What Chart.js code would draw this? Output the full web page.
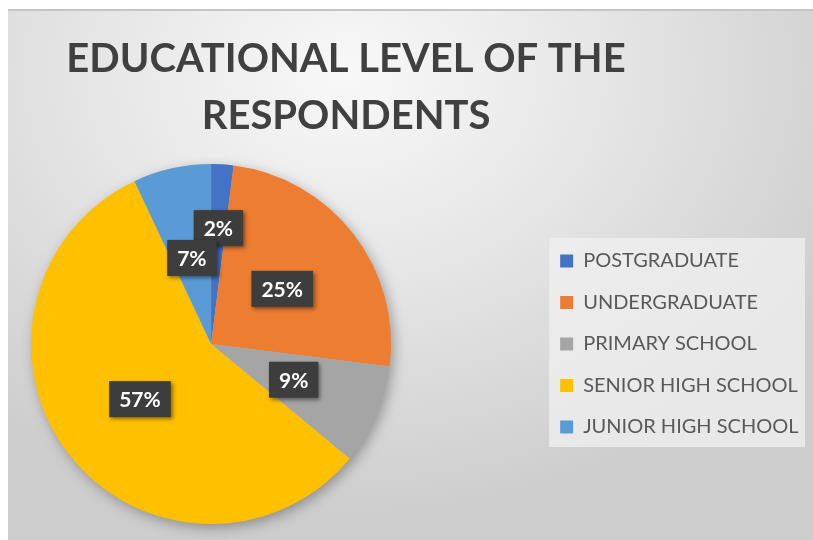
<!DOCTYPE html>
<html>
<head>
<meta charset="utf-8">
<script src="https://cdn.jsdelivr.net/npm/chart.js@4.4.1/dist/chart.umd.min.js"></script>
<style>
	html, body {
		margin: 0;
		padding: 0;
		background: #ffffff;
	}
	#frame {
		position: absolute;
		left: 8px;
		top: 9px;
		width: 805px;
		height: 529px;
		border-top: 2px solid #c4c4c4;
		background: radial-gradient(ellipse 70% 85% at 42% 12%, #f8f8f8 0%, #e6e6e6 45%, #cdcdcd 100%);
	}
	#chart {
		display: block;
	}
</style>
</head>
<body>
<div id="frame">
	<canvas id="chart" width="805" height="529"></canvas>
</div>
<script>
const titleLines = ["EDUCATIONAL LEVEL OF THE", "RESPONDENTS"];
const categories = ["POSTGRADUATE", "UNDERGRADUATE", "PRIMARY SCHOOL", "SENIOR HIGH SCHOOL", "JUNIOR HIGH SCHOOL"];
const shares = [2, 25, 9, 57, 7];
const sliceColors = ["#4472C4", "#ED7D31", "#A5A5A5", "#FFC000", "#5B9BD5"];

// how far out (fraction of the radius) each percent box sits
const labelRadius = [0.645, 0.5, 0.5, 0.5, 0.49];

// legend is laid out next to the pie, then pushed out to the right edge
const legendToRight = {
	id: "legendToRight",
	afterLayout(chart, args, opts) {
		const legend = chart.legend;
		if (!legend) return;
		const shift = chart.width - opts.gap - legend.right;
		legend.left += shift;
		legend.right += shift;
	}
};

const pieShadow = {
	id: "pieShadow",
	beforeDatasetsDraw(chart) {
		const arc = chart.getDatasetMeta(0).data[0];
		if (!arc) return;
		const {x, y, outerRadius} = arc.getProps(["x", "y", "outerRadius"], true);
		const ctx = chart.ctx;
		ctx.save();
		ctx.shadowColor = "rgba(0, 0, 0, 0.35)";
		ctx.shadowBlur = 14;
		ctx.shadowOffsetX = 3;
		ctx.shadowOffsetY = 4;
		ctx.fillStyle = "#bbbbbb";
		ctx.beginPath();
		ctx.arc(x, y, outerRadius - 1, 0, Math.PI * 2);
		ctx.fill();
		ctx.restore();
	}
};

const legendPanel = {
	id: "legendPanel",
	beforeDraw(chart) {
		const legend = chart.legend;
		if (!legend) return;
		const ctx = chart.ctx;
		const pad = legend.options.labels.padding;
		const midY = (legend.top + legend.bottom) / 2;
		const left = legend.left + pad - 11;
		ctx.save();
		ctx.fillStyle = "rgba(240, 240, 240, 0.75)";
		ctx.fillRect(left, midY - 106, legend.right - 3.5 - left, 209);
		ctx.restore();
	}
};

const percentBoxes = {
	id: "percentBoxes",
	afterDatasetsDraw(chart) {
		const ctx = chart.ctx;
		const meta = chart.getDatasetMeta(0);
		const values = chart.data.datasets[0].data;
		const total = values.reduce((a, b) => a + b, 0);

		ctx.save();
		ctx.font = "bold 21px Lato";
		ctx.textAlign = "center";
		ctx.textBaseline = "middle";

		meta.data.forEach((arc, i) => {
			const {x, y, startAngle, endAngle, outerRadius} = arc.getProps(["x", "y", "startAngle", "endAngle", "outerRadius"], true);
			const mid = (startAngle + endAngle) / 2;
			const r = outerRadius * labelRadius[i];
			const cx = x + Math.cos(mid) * r;
			const cy = y + Math.sin(mid) * r;
			const text = Math.round(values[i] / total * 100) + "%";
			const w = ctx.measureText(text).width + 20;
			const h = 36;

			ctx.shadowColor = "rgba(0, 0, 0, 0.45)";
			ctx.shadowBlur = 4;
			ctx.shadowOffsetX = 2;
			ctx.shadowOffsetY = 2;
			ctx.fillStyle = "#3d3d3d";
			ctx.fillRect(cx - w / 2, cy - h / 2, w, h);

			ctx.shadowColor = "transparent";
			ctx.fillStyle = "#ffffff";
			ctx.fillText(text, cx, cy + 1);
		});
		ctx.restore();
	}
};

new Chart(document.getElementById("chart"), {
	type: "pie",
	data: {
		labels: categories,
		datasets: [{
			data: shares,
			backgroundColor: sliceColors,
			borderWidth: 0
		}]
	},
	options: {
		responsive: false,
		animation: false,
		layout: {
			padding: {left: 0, right: 129, top: 0, bottom: 16}
		},
		plugins: {
			title: {
				display: true,
				text: titleLines,
				color: "#404040",
				font: {family: "Lato", size: 40, weight: "bold", lineHeight: 1.4375},
				padding: {top: 19, bottom: 19}
			},
			legend: {
				position: "right",
				fullSize: false,
				labels: {
					color: "#595959",
					font: {family: "Lato", size: 20},
					boxWidth: 13,
					boxHeight: 13,
					padding: 21.5
				}
			},
			legendToRight: {gap: 4.5},
			tooltip: {enabled: false}
		}
	},
	plugins: [legendToRight, pieShadow, legendPanel, percentBoxes]
});
</script>
</body>
</html>
